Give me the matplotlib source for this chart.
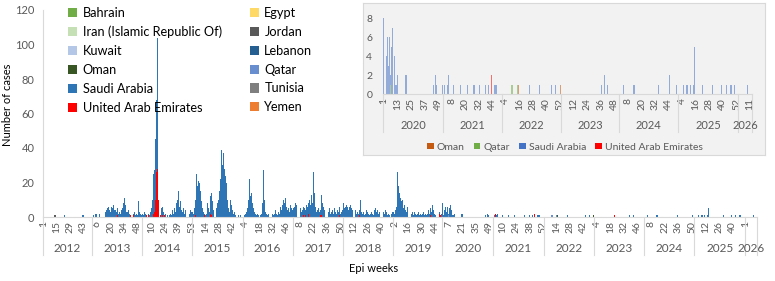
import numpy as np
import matplotlib
matplotlib.use("Agg")
import matplotlib.pyplot as plt
from matplotlib.patches import Patch
from matplotlib.transforms import blended_transform_factory

plt.rcParams['font.family'] = ['Lato', 'DejaVu Sans']

# ---- data (weekly case counts) ----
years = [2012, 2013, 2014, 2015, 2016, 2017, 2018, 2019, 2020, 2021, 2022, 2023, 2024, 2025, 2026]
last_week = [51, 52, 53, 52, 52, 52, 52, 51, 53, 52, 52, 52, 52, 53, 12]
missing_weeks = [(2014, 30)]

saudi_2012 = [0, 0, 0, 0, 0, 0, 0, 0, 0, 0,
              0, 0, 0, 0, 0, 0, 0, 0, 0, 0,
              0, 0, 1, 0, 0, 0, 0, 0, 0, 0,
              0, 0, 0, 0, 0, 0, 0, 0, 0, 0,
              0, 1, 1, 0, 0, 0, 0, 0, 0, 0, 0]
saudi_2013 = [0, 1, 0, 2, 2, 0, 0, 2, 0, 0,
              0, 0, 2, 7, 3, 4, 5, 6, 4, 3,
              6, 5, 7, 4, 4, 3, 4, 2, 3, 2,
              4, 5, 8, 11, 7, 3, 3, 4, 2, 0,
              2, 0, 2, 1, 3, 1, 2, 1, 9, 3, 2, 1]
saudi_2014 = [2, 1, 3, 2, 0, 0, 1, 1, 3, 5,
              10, 23, 24, 35, 42, 76, 66, 25, 25, 9,
              5, 5, 3, 0, 2, 0, 1, 0, 1,
              2, 1, 4, 2, 5, 3, 8, 10, 15, 6,
              9, 4, 3, 5, 2, 4, 3, 5, 2, 3, 2, 4, 3]
saudi_2015 = [3, 2, 5, 9, 25, 18, 21, 20, 15, 9,
              5, 3, 1, 1, 2, 8, 5, 3, 10, 13,
              9, 4, 3, 1, 1, 5, 8, 10, 15, 22,
              39, 30, 37, 28, 24, 20, 10, 5, 3, 10,
              7, 4, 2, 3, 1, 0, 0, 1, 0, 1, 0, 1]
saudi_2016 = [0, 0, 1, 2, 3, 5, 10, 22, 12, 14,
              8, 5, 3, 2, 1, 2, 1, 0, 1, 2,
              8, 27, 10, 3, 2, 1, 2, 1, 1, 2,
              1, 2, 1, 2, 4, 2, 1, 3, 2, 6,
              4, 7, 10, 8, 11, 6, 4, 5, 3, 7, 5, 4]
saudi_2017 = [5, 6, 8, 7, 5, 6, 4, 7, 5, 3,
              4, 5, 5, 3, 7, 6, 6, 10, 7, 13,
              8, 26, 14, 6, 3, 4, 5, 3, 3, 12,
              8, 6, 4, 2, 3, 4, 2, 3, 5, 2,
              3, 4, 2, 5, 3, 2, 4, 3, 5, 2, 3, 4]
saudi_2018 = [8, 5, 6, 7, 6, 4, 6, 7, 5, 4,
              6, 5, 3, 4, 2, 3, 2, 3, 10, 3,
              2, 3, 1, 2, 4, 3, 2, 1, 2, 3,
              2, 1, 4, 5, 3, 4, 2, 3, 4, 2,
              3, 4, 3, 2, 4, 3, 1, 2, 1, 0, 2, 3]
saudi_2019 = [3, 2, 4, 6, 26, 18, 14, 11, 9, 10,
              5, 7, 4, 3, 6, 4, 2, 3, 5, 2,
              3, 1, 3, 2, 1, 2, 3, 1, 2, 1,
              2, 3, 1, 2, 1, 2, 4, 2, 4, 3,
              7, 4, 2, 1, 2, 3, 1, 2, 1, 0, 2]
saudi_2020 = [8, 1, 4, 6, 3, 6, 1, 5, 7, 4,
              1, 1, 2, 0, 0, 0, 0, 0, 0, 2,
              2, 0, 0, 0, 0, 0, 0, 0, 0, 0,
              0, 0, 0, 0, 0, 0, 0, 0, 0, 0,
              0, 0, 0, 0, 1, 0, 2, 1, 0, 0, 0, 0, 1]
saudi_2021 = [0, 1, 0, 1, 2, 0, 0, 0, 0, 1,
              0, 0, 0, 0, 0, 1, 0, 0, 0, 0,
              0, 1, 0, 0, 0, 0, 1, 1, 0, 0,
              0, 0, 1, 0, 0, 0, 0, 1, 0, 0,
              1, 0, 0, 0, 0, 1, 1, 1, 0, 0, 0, 0]
saudi_2022 = [0, 0, 0, 0, 0, 0, 0, 0, 0, 0,
              0, 0, 0, 0, 0, 0, 0, 0, 0, 0,
              0, 0, 0, 0, 1, 0, 0, 0, 0, 0,
              0, 0, 0, 1, 0, 0, 0, 0, 0, 0,
              0, 0, 0, 1, 0, 0, 0, 1, 0, 0, 0, 0]
saudi_2023 = [0, 0, 0, 0, 0, 0, 0, 0, 0, 0,
              0, 0, 0, 0, 0, 0, 0, 0, 0, 0,
              0, 0, 0, 0, 0, 0, 0, 0, 0, 0,
              0, 0, 0, 0, 0, 0, 1, 0, 2, 0,
              0, 1, 0, 0, 0, 0, 0, 0, 0, 0, 0, 0]
saudi_2024 = [0, 0, 0, 1, 0, 0, 0, 0, 0, 0,
              0, 0, 1, 1, 0, 0, 0, 0, 0, 0,
              0, 0, 0, 0, 0, 0, 0, 0, 0, 0,
              0, 0, 0, 0, 1, 0, 0, 0, 0, 0,
              0, 0, 0, 0, 2, 0, 0, 0, 0, 0, 1, 0]
saudi_2025 = [0, 0, 0, 0, 1, 0, 0, 1, 1, 0,
              1, 0, 0, 1, 5, 0, 0, 0, 0, 0,
              0, 1, 0, 0, 0, 0, 0, 0, 0, 0,
              1, 0, 0, 0, 0, 0, 0, 0, 1, 0,
              0, 0, 1, 0, 0, 0, 1, 1, 0, 1, 0, 0, 0]
saudi_2026 = [0, 0, 0, 0, 0, 0, 0, 0, 1, 0, 0, 0]

# (year, epi week, cases)
uae_cases = [(2013, 27, 1), (2013, 40, 1), (2013, 42, 1), (2013, 44, 1),
             (2014, 5, 1), (2014, 7, 1), (2014, 12, 2), (2014, 13, 3), (2014, 14, 10),
             (2014, 15, 26), (2014, 16, 28), (2014, 17, 10), (2014, 18, 3), (2014, 19, 2),
             (2014, 20, 1), (2014, 22, 1), (2014, 24, 1),
             (2015, 4, 1), (2015, 13, 1), (2015, 19, 2), (2015, 20, 1), (2015, 25, 1),
             (2016, 1, 2), (2017, 12, 1), (2017, 14, 1), (2017, 17, 2), (2017, 29, 1),
             (2017, 30, 1), (2017, 49, 1), (2018, 18, 1), (2019, 39, 1), (2019, 49, 2),
             (2019, 50, 1), (2021, 3, 2), (2021, 43, 2), (2023, 22, 1)]
jordan_cases = [(2012, 13, 1), (2012, 14, 1)]
qatar_cases = [(2020, 7, 1), (2022, 9, 1), (2022, 10, 1), (2022, 14, 1)]
oman_cases = [(2022, 15, 1), (2022, 52, 1)]

countries = ['Bahrain', 'Egypt', 'Iran (Islamic Republic Of)', 'Jordan', 'Kuwait', 'Lebanon',
             'Oman', 'Qatar', 'Saudi Arabia', 'Tunisia', 'United Arab Emirates', 'Yemen']
country_colors = ['#70AD47', '#FFD966', '#C5E0B4', '#595959', '#B4C7E7', '#255E91',
                  '#375623', '#698ED0', '#2E75B6', '#7F7F7F', '#FF0000', '#ED7D31']
inset_countries = ['Oman', 'Qatar', 'Saudi Arabia', 'United Arab Emirates']
inset_colors = ['#C55A11', '#70AD47', '#4472C4', '#FF0000']
inset_start_year = 2020

# ---- build the weekly category axis ----
week_labels, week_year, index_of = [], [], {}
for yr, lw in zip(years, last_week):
    for wk in range(1, lw + 1):
        if (yr, wk) in missing_weeks:
            continue
        index_of[(yr, wk)] = len(week_labels)
        week_labels.append(wk)
        week_year.append(yr)
n = len(week_labels)
saudi = np.array(saudi_2012 + saudi_2013 + saudi_2014 + saudi_2015 + saudi_2016 + saudi_2017
                 + saudi_2018 + saudi_2019 + saudi_2020 + saudi_2021 + saudi_2022 + saudi_2023
                 + saudi_2024 + saudi_2025 + saudi_2026, dtype=float)


def to_series(cases):
    arr = np.zeros(n)
    for yr, wk, c in cases:
        arr[index_of[(yr, wk)]] += c
    return arr


uae = to_series(uae_cases)
jordan = to_series(jordan_cases)
qatar = to_series(qatar_cases)
oman = to_series(oman_cases)
x = np.arange(n)
col = dict(zip(countries, country_colors))

W, H = 775, 281


def px_box(x0, y0, x1, y1):
    return [x0 / W, 1 - y1 / H, (x1 - x0) / W, (y1 - y0) / H]


fig = plt.figure(figsize=(W / 100, H / 100), dpi=100)
grey = '#595959'
line = '#D9D9D9'

# ---- main chart ----
ax = fig.add_axes(px_box(42.7, 10, 757, 217))
bottom = np.zeros(n)
for arr, name in [(uae, 'United Arab Emirates'), (jordan, 'Jordan'), (qatar, 'Qatar'), (oman, 'Oman')]:
    ax.bar(x, arr, bottom=bottom, width=0.95, color=col[name], linewidth=0)
    bottom += arr
ax.bar(x, saudi, bottom=bottom, width=0.9, color=col['Saudi Arabia'], linewidth=0)
ax.set_xlim(-0.5, n - 0.5)
ax.set_ylim(0, 120)
ax.set_yticks(range(0, 121, 20))
ax.tick_params(axis='y', length=0, labelsize=8, labelcolor=grey, pad=6)
ticks = x[::14]
ax.set_xticks(ticks)
ax.set_xticklabels([str(week_labels[i]) for i in ticks], rotation=90, fontsize=7.5, color=grey)
ax.tick_params(axis='x', length=0, pad=3)
for s in ['top', 'right']:
    ax.spines[s].set_visible(False)
ax.spines['left'].set_color(line)
ax.spines['bottom'].set_color(line)

tr = blended_transform_factory(ax.transData, ax.transAxes)
starts = [week_year.index(yr) for yr in years]
bounds = starts + [n]
for b in bounds:
    ax.plot([b - 0.5, b - 0.5], [0, -0.185], transform=tr, color=line, lw=0.8, clip_on=False)
for yr, a, b in zip(years, bounds[:-1], bounds[1:]):
    ax.text((a + b - 1) / 2, -0.152, str(yr), transform=tr, ha='center', va='center',
            fontsize=8.5, color=grey)

fig.text(8 / W, 1 - 105 / H, 'Number of cases', rotation=90, ha='center', va='center', fontsize=8)
fig.text(374 / W, 1 - 269 / H, 'Epi weeks', ha='center', va='center', fontsize=8)

handles = [Patch(facecolor=c, edgecolor='none') for c in country_colors]
leg_kw = dict(loc='upper left', frameon=False, fontsize=9.2, handlelength=0.72, handleheight=0.72,
              handletextpad=0.4, labelspacing=0.54, borderaxespad=0, borderpad=0)
leg1 = ax.legend(handles[0::2], countries[0::2], bbox_to_anchor=(0.0358, 1.015), **leg_kw)
ax.add_artist(leg1)
ax.legend(handles[1::2], countries[1::2], bbox_to_anchor=(0.2902, 1.015), **leg_kw)

# ---- inset (2020 onwards) ----
bg = fig.add_axes(px_box(363, 3, 765, 155))
bg.set_facecolor('#F2F2F2')
bg.set_xticks([])
bg.set_yticks([])
for s in bg.spines.values():
    s.set_color(line)

i0 = starts[years.index(inset_start_year)]
xi = x[i0:] - i0
iax = fig.add_axes(px_box(383.3, 18.3, 751.7, 94.3))
iax.patch.set_alpha(0)
icol = dict(zip(inset_countries, inset_colors))
ib = np.zeros(len(xi))
for arr, name in [(uae, 'United Arab Emirates'), (qatar, 'Qatar'), (oman, 'Oman'), (saudi, 'Saudi Arabia')]:
    iax.bar(xi, arr[i0:], bottom=ib, width=0.85, color=icol[name], alpha=0.55, linewidth=0)
    ib += arr[i0:]
iax.set_xlim(-0.5, len(xi) - 0.5)
iax.set_ylim(0, 8)
iax.set_yticks(range(0, 9, 2))
iax.tick_params(axis='y', length=0, labelsize=7.5, labelcolor=grey, pad=8)
iticks = xi[::12]
iax.set_xticks(iticks)
iax.set_xticklabels([str(week_labels[i0 + i]) for i in iticks], rotation=90, fontsize=7.5, color=grey)
iax.tick_params(axis='x', length=0, pad=3)
for s in ['top', 'right', 'left']:
    iax.spines[s].set_visible(False)
iax.spines['bottom'].set_color(line)
itr = blended_transform_factory(iax.transData, iax.transAxes)
ibounds = [b - i0 for b in bounds if b >= i0]
for b in ibounds:
    iax.plot([b - 0.5, b - 0.5], [0, -0.49], transform=itr, color=line, lw=0.8, clip_on=False)
for yr, a, b in zip(years[years.index(inset_start_year):], ibounds[:-1], ibounds[1:]):
    iax.text((a + b - 1) / 2, -0.404, str(yr), transform=itr, ha='center', va='center',
             fontsize=8, color=grey)
ihandles = [Patch(facecolor=c, edgecolor='none') for c in inset_colors]
bg.legend(ihandles, inset_countries, loc='center', bbox_to_anchor=(565 / W, 1 - 147 / H),
          bbox_transform=fig.transFigure, ncol=4, frameon=False, fontsize=7.5, handlelength=0.6,
          handleheight=0.6, handletextpad=0.3, columnspacing=0.9, labelcolor=grey)

fig.savefig('out.png', dpi=100)
